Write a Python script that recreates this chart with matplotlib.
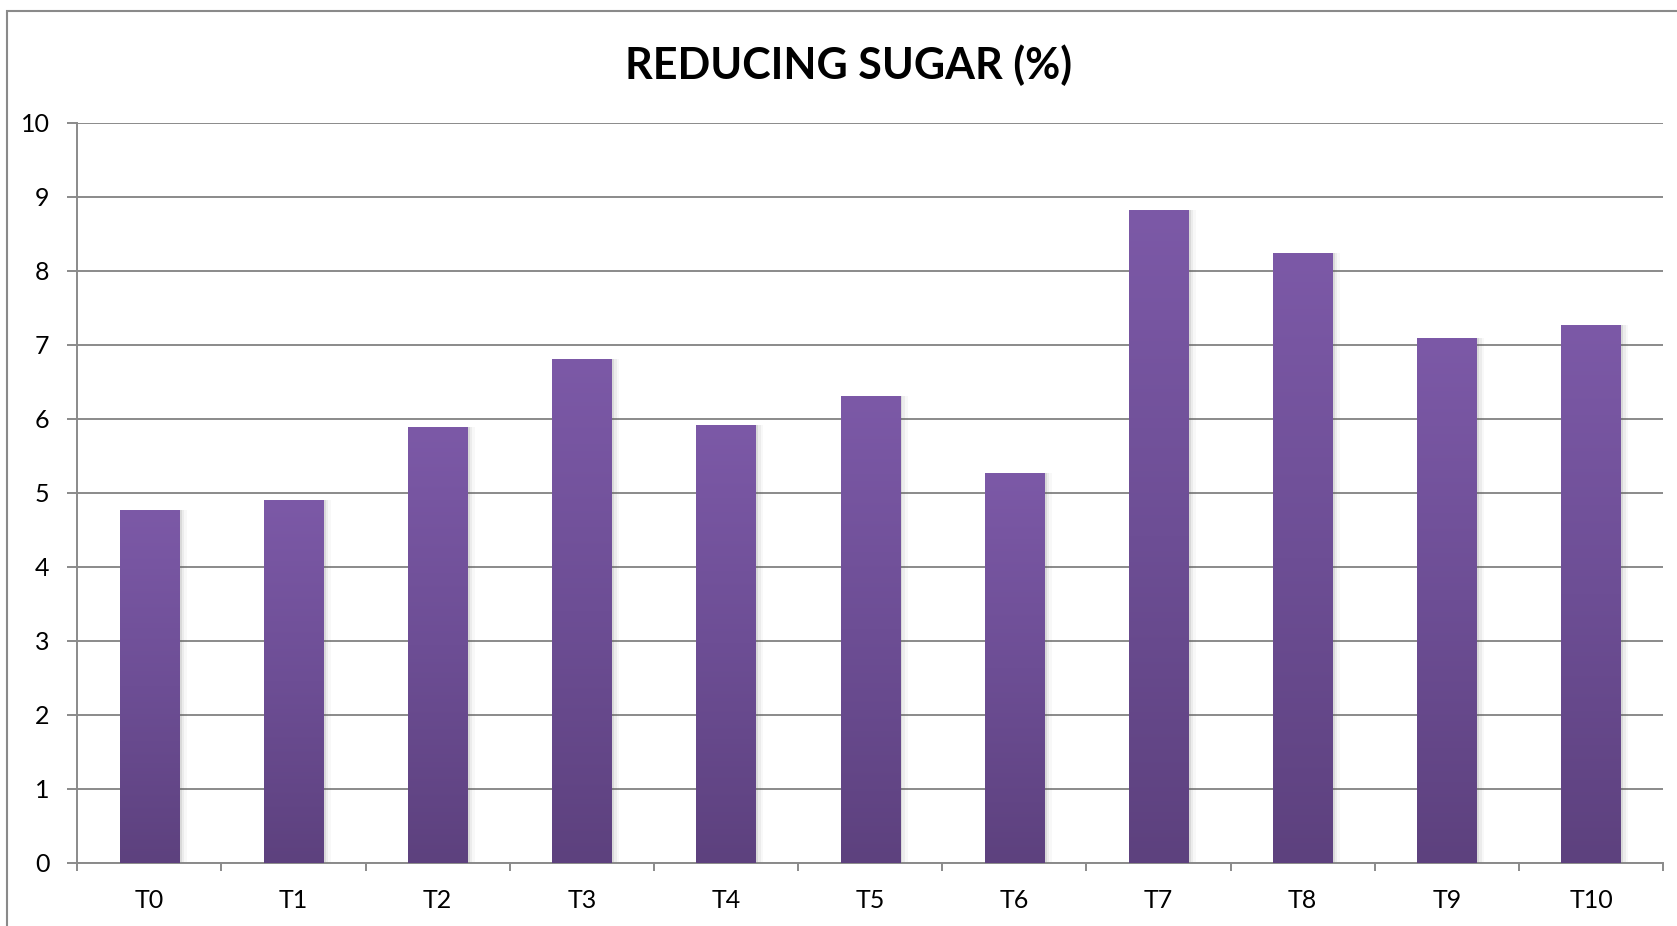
import numpy as np
import matplotlib
matplotlib.use("Agg")
import matplotlib.pyplot as plt
from matplotlib.colors import LinearSegmentedColormap
from matplotlib.patches import Rectangle

# --- data ---
categories = ['T0', 'T1', 'T2', 'T3', 'T4', 'T5', 'T6', 'T7', 'T8', 'T9', 'T10']
reducing_sugar = [4.77, 4.90, 5.89, 6.80, 5.92, 6.30, 5.26, 8.82, 8.24, 7.09, 7.26]
y_ticks = [0, 1, 2, 3, 4, 5, 6, 7, 8, 9, 10]
title = 'REDUCING SUGAR (%)'

plt.rcParams['font.family'] = ['Lato', 'DejaVu Sans']

GRID = '#8a8a8a'
grad = LinearSegmentedColormap.from_list('bar', ['#5d417e', '#6d4e95', '#7c59a7'])

fig = plt.figure(figsize=(16.77, 9.26), dpi=100)
ax = fig.add_axes([0.0461, 0.0684, 0.9456, 0.7991])

x = np.arange(len(categories))
width = 0.41

# soft shadow behind bars
for k, a in [(0.012, 0.12), (0.024, 0.07), (0.036, 0.04)]:
    ax.bar(x + k, reducing_sugar, width=width + k, color='#555555', alpha=a,
           zorder=2, linewidth=0)

bars = ax.bar(x, reducing_sugar, width=width, color='#6d4e95', zorder=3, linewidth=0)

# vertical gradient inside each bar
g = np.linspace(0, 1, 256).reshape(-1, 1)
for b in bars:
    x0, w, h = b.get_x(), b.get_width(), b.get_height()
    im = ax.imshow(g, cmap=grad, origin='lower', aspect='auto',
                   extent=(x0, x0 + w, 0, h), zorder=4, interpolation='bilinear')
    im.set_clip_path(b)

ax.set_xlim(-0.5, len(categories) - 0.5)
ax.set_ylim(0, 10)

ax.set_yticks(y_ticks)
ax.yaxis.grid(True, color=GRID, linewidth=1.4, zorder=1)
ax.set_axisbelow(True)

# category boundary ticks + centered labels
ax.set_xticks(np.arange(len(categories) + 1) - 0.5)
ax.set_xticklabels([])
ax.set_xticks(x, minor=True)
ax.set_xticklabels(categories, minor=True)
ax.tick_params(axis='x', which='major', direction='out', length=6, width=1.4, color=GRID)
ax.tick_params(axis='x', which='minor', length=0, pad=19, labelsize=18)
ax.tick_params(axis='y', direction='out', length=7, width=1.4, color=GRID,
               pad=13, labelsize=18)

for s in ['top', 'right']:
    ax.spines[s].set_visible(False)
for s in ['left', 'bottom']:
    ax.spines[s].set_color(GRID)
    ax.spines[s].set_linewidth(1.4)

fig.text(0.506, 0.930, title, ha='center', va='center', fontsize=31, fontweight='bold')

# outer chart frame
fig.patches.append(Rectangle((0.0044, -0.1), 1.2, 1.0884, transform=fig.transFigure,
                             fill=False, edgecolor=GRID, linewidth=1.5))

fig.savefig('out.png', dpi=100)
